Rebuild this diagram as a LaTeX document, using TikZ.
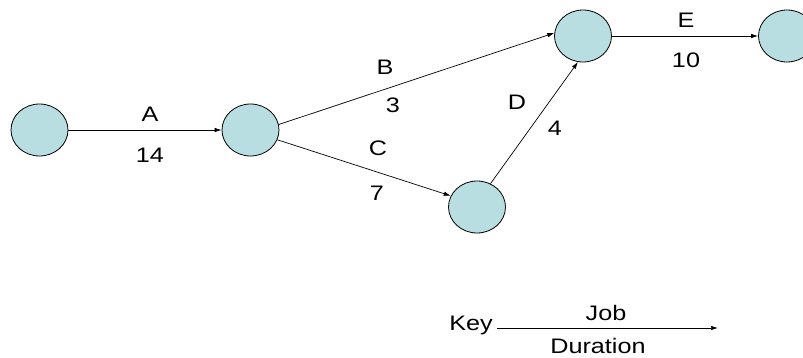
\documentclass[tikz,border=0pt]{standalone}
\usepackage{graphicx}
\usepackage{fontspec}
\setmainfont{Liberation Sans}
\usetikzlibrary{shapes.geometric,arrows.meta}
\definecolor{nodefill}{RGB}{185,222,226}
\newcommand{\widetxt}[1]{\scalebox{1.2}[1]{#1}}
\tikzset{
  event/.style={ellipse,draw=black,line width=0.8pt,fill=nodefill,minimum width=57pt,minimum height=52pt,inner sep=0pt},
  job/.style={draw=black,line width=0.7pt,-{Latex[length=7pt,width=4.5pt]}},
  lbl/.style={font=\fontsize{21}{21}\selectfont,inner sep=0pt}
}
\begin{document}
\begin{tikzpicture}[x=1pt,y=-1pt]
\useasboundingbox (0,0) rectangle (803,358);
\node[event] (n1) at (39.5,130) {};
\node[event] (n2) at (250.5,130) {};
\node[event] (n3) at (583,36) {};
\node[event] (n4) at (787,36) {};
\node[event] (n5) at (477,207) {};
\draw[job] (n1) -- (n2);
\draw[job] (n2.11) -- (n3.174);
\draw[job] (n2.-20) -- (n5.157);
\draw[job] (n5.60) -- (n3.-101);
\draw[job] (n3) -- (n4);
\node[lbl] (la) at (150,114) {\widetxt{A}};
\node[lbl] (la2) at (150,155) {\widetxt{14}};
\node[lbl] (lb) at (385,67) {\widetxt{B}};
\node[lbl] (lb2) at (393,105) {\widetxt{3}};
\node[lbl] (lc) at (378,148) {\widetxt{C}};
\node[lbl] (lc2) at (377,193) {\widetxt{7}};
\node[lbl] (ld) at (517,102) {\widetxt{D}};
\node[lbl] (ld2) at (555,128) {\widetxt{4}};
\node[lbl] (le) at (686,20) {\widetxt{E}};
\node[lbl] (le2) at (686,60) {\widetxt{10}};
\node[lbl,anchor=east] (key) at (493,325) {\widetxt{Key}};
\coordinate (k1) at (497,328);
\coordinate (k2) at (718,328);
\draw[job] (k1) -- (k2);
\node[lbl] (kj) at (606,313) {\widetxt{Job}};
\node[lbl] (kd) at (598,346) {\widetxt{Duration}};
\end{tikzpicture}
\end{document}
